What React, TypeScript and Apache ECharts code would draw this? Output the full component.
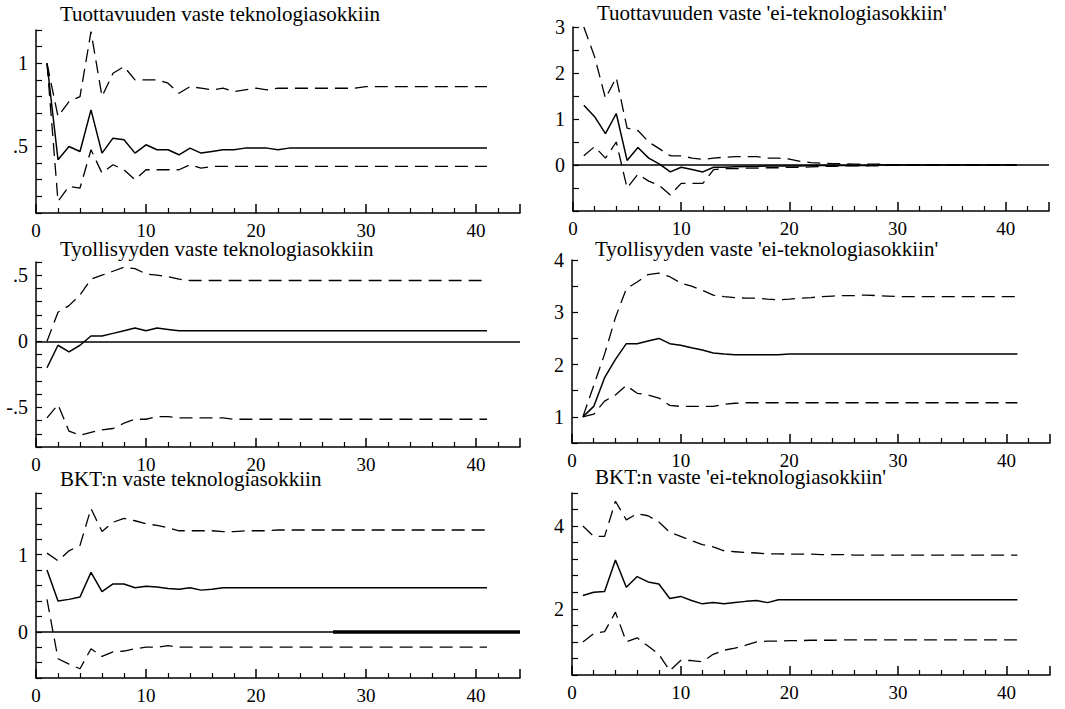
import React, { useEffect, useRef } from "react";
import * as echarts from "echarts";

// Horizon (quarters) 1..41
const horizon: number[] = Array.from({ length: 41 }, (_, i) => i + 1);

const titles: string[] = [
  "Tuottavuuden vaste teknologiasokkiin",
  "Tuottavuuden vaste 'ei-teknologiasokkiin'",
  "Tyollisyyden vaste teknologiasokkiin",
  "Tyollisyyden vaste 'ei-teknologiasokkiin'",
  "BKT:n vaste teknologiasokkiin",
  "BKT:n vaste 'ei-teknologiasokkiin'",
];

// Panel 1
const prodTechMid = [1.0, 0.42, 0.5, 0.47, 0.72, 0.46, 0.55, 0.54, 0.46, 0.51, 0.48, 0.48, 0.45, 0.49, 0.46, 0.47, 0.48, 0.48, 0.49, 0.49, 0.49, 0.48, 0.49, 0.49, 0.49, 0.49, 0.49, 0.49, 0.49, 0.49, 0.49, 0.49, 0.49, 0.49, 0.49, 0.49, 0.49, 0.49, 0.49, 0.49, 0.49];
const prodTechUp = [1.0, 0.68, 0.77, 0.8, 1.19, 0.8, 0.94, 0.98, 0.9, 0.9, 0.9, 0.88, 0.82, 0.86, 0.85, 0.84, 0.85, 0.83, 0.84, 0.85, 0.84, 0.85, 0.85, 0.85, 0.85, 0.85, 0.85, 0.85, 0.85, 0.86, 0.86, 0.86, 0.86, 0.86, 0.86, 0.86, 0.86, 0.86, 0.86, 0.86, 0.86];
const prodTechLo = [1.0, 0.17, 0.26, 0.25, 0.48, 0.34, 0.39, 0.36, 0.3, 0.36, 0.36, 0.36, 0.36, 0.39, 0.37, 0.38, 0.38, 0.38, 0.38, 0.38, 0.38, 0.38, 0.38, 0.38, 0.38, 0.38, 0.38, 0.38, 0.38, 0.38, 0.38, 0.38, 0.38, 0.38, 0.38, 0.38, 0.38, 0.38, 0.38, 0.38, 0.38];

// Panel 2
const prodNonMid = [1.3, 1.05, 0.68, 1.12, 0.1, 0.38, 0.15, 0.02, -0.15, -0.05, -0.1, -0.15, -0.05, -0.05, -0.04, -0.03, -0.03, -0.02, -0.02, -0.02, -0.02, -0.01, -0.01, -0.01, -0.01, -0.01, -0.01, 0, 0, 0, 0, 0, 0, 0, 0, 0, 0, 0, 0, 0, 0];
const prodNonUp = [3.0, 2.35, 1.45, 1.9, 0.8, 0.75, 0.5, 0.35, 0.2, 0.2, 0.15, 0.12, 0.15, 0.17, 0.18, 0.18, 0.18, 0.15, 0.15, 0.13, 0.08, 0.05, 0.04, 0.03, 0.03, 0.02, 0.02, 0.02, 0.01, 0.01, 0.01, 0.01, 0.01, 0, 0, 0, 0, 0, 0, 0, 0];
const prodNonLo = [0.2, 0.4, 0.15, 0.5, -0.5, -0.2, -0.35, -0.45, -0.65, -0.4, -0.4, -0.4, -0.1, -0.08, -0.08, -0.07, -0.07, -0.06, -0.06, -0.05, -0.05, -0.04, -0.03, -0.03, -0.02, -0.02, -0.02, -0.02, -0.01, -0.01, -0.01, -0.01, -0.01, 0, 0, 0, 0, 0, 0, 0, 0];

// Panel 3
const empTechMid = [-0.2, -0.03, -0.08, -0.03, 0.04, 0.04, 0.06, 0.08, 0.1, 0.08, 0.1, 0.09, 0.08, 0.08, 0.08, 0.08, 0.08, 0.08, 0.08, 0.08, 0.08, 0.08, 0.08, 0.08, 0.08, 0.08, 0.08, 0.08, 0.08, 0.08, 0.08, 0.08, 0.08, 0.08, 0.08, 0.08, 0.08, 0.08, 0.08, 0.08, 0.08];
const empTechUp = [0.0, 0.22, 0.27, 0.35, 0.47, 0.5, 0.53, 0.56, 0.55, 0.51, 0.5, 0.49, 0.47, 0.46, 0.46, 0.46, 0.46, 0.46, 0.46, 0.46, 0.46, 0.46, 0.46, 0.46, 0.46, 0.46, 0.46, 0.46, 0.46, 0.46, 0.46, 0.46, 0.46, 0.46, 0.46, 0.46, 0.46, 0.46, 0.46, 0.46, 0.46];
const empTechLo = [-0.58, -0.48, -0.68, -0.71, -0.69, -0.67, -0.66, -0.62, -0.59, -0.59, -0.57, -0.57, -0.58, -0.58, -0.58, -0.58, -0.58, -0.59, -0.59, -0.59, -0.59, -0.59, -0.59, -0.59, -0.59, -0.59, -0.59, -0.59, -0.59, -0.59, -0.59, -0.59, -0.59, -0.59, -0.59, -0.59, -0.59, -0.59, -0.59, -0.59, -0.59];

// Panel 4
const empNonMid = [1.0, 1.2, 1.75, 2.1, 2.4, 2.4, 2.45, 2.5, 2.4, 2.37, 2.32, 2.28, 2.22, 2.2, 2.19, 2.19, 2.19, 2.19, 2.19, 2.2, 2.2, 2.2, 2.2, 2.2, 2.2, 2.2, 2.2, 2.2, 2.2, 2.2, 2.2, 2.2, 2.2, 2.2, 2.2, 2.2, 2.2, 2.2, 2.2, 2.2, 2.2];
const empNonUp = [1.0, 1.6, 2.2, 2.9, 3.45, 3.58, 3.72, 3.75, 3.68, 3.56, 3.5, 3.42, 3.33, 3.3, 3.28, 3.27, 3.27, 3.25, 3.24, 3.25, 3.27, 3.28, 3.3, 3.31, 3.32, 3.32, 3.33, 3.32, 3.31, 3.3, 3.3, 3.3, 3.3, 3.3, 3.3, 3.3, 3.3, 3.3, 3.3, 3.3, 3.3];
const empNonLo = [1.0, 1.05, 1.3, 1.42, 1.6, 1.45, 1.42, 1.36, 1.22, 1.2, 1.2, 1.2, 1.2, 1.24, 1.26, 1.27, 1.27, 1.27, 1.27, 1.27, 1.27, 1.27, 1.27, 1.27, 1.27, 1.27, 1.27, 1.27, 1.27, 1.27, 1.27, 1.27, 1.27, 1.27, 1.27, 1.27, 1.27, 1.27, 1.27, 1.27, 1.27];

// Panel 5
const gdpTechMid = [0.8, 0.4, 0.42, 0.45, 0.77, 0.52, 0.62, 0.62, 0.57, 0.59, 0.58, 0.56, 0.55, 0.57, 0.54, 0.55, 0.57, 0.57, 0.57, 0.57, 0.57, 0.57, 0.57, 0.57, 0.57, 0.57, 0.57, 0.57, 0.57, 0.57, 0.57, 0.57, 0.57, 0.57, 0.57, 0.57, 0.57, 0.57, 0.57, 0.57, 0.57];
const gdpTechUp = [1.02, 0.92, 1.05, 1.12, 1.6, 1.3, 1.42, 1.47, 1.44, 1.4, 1.38, 1.35, 1.31, 1.31, 1.31, 1.31, 1.3, 1.3, 1.31, 1.31, 1.31, 1.32, 1.32, 1.32, 1.32, 1.32, 1.32, 1.32, 1.32, 1.32, 1.32, 1.32, 1.32, 1.32, 1.32, 1.32, 1.32, 1.32, 1.32, 1.32, 1.32];
const gdpTechLo = [0.42, -0.35, -0.42, -0.48, -0.22, -0.32, -0.26, -0.25, -0.22, -0.2, -0.2, -0.18, -0.2, -0.2, -0.2, -0.2, -0.2, -0.2, -0.2, -0.2, -0.2, -0.2, -0.2, -0.2, -0.2, -0.2, -0.2, -0.2, -0.2, -0.2, -0.2, -0.2, -0.2, -0.2, -0.2, -0.2, -0.2, -0.2, -0.2, -0.2, -0.2];

// Panel 6
const gdpNonMid = [2.32, 2.4, 2.42, 3.18, 2.52, 2.78, 2.65, 2.6, 2.25, 2.3, 2.2, 2.12, 2.15, 2.12, 2.15, 2.18, 2.2, 2.15, 2.22, 2.22, 2.22, 2.22, 2.22, 2.22, 2.22, 2.22, 2.22, 2.22, 2.22, 2.22, 2.22, 2.22, 2.22, 2.22, 2.22, 2.22, 2.22, 2.22, 2.22, 2.22, 2.22];
const gdpNonUp = [4.0, 3.75, 3.75, 4.6, 4.15, 4.3, 4.25, 4.1, 3.85, 3.75, 3.65, 3.55, 3.5, 3.4, 3.38, 3.36, 3.35, 3.33, 3.33, 3.32, 3.32, 3.32, 3.31, 3.31, 3.31, 3.3, 3.3, 3.3, 3.3, 3.3, 3.3, 3.3, 3.3, 3.3, 3.3, 3.3, 3.3, 3.3, 3.3, 3.3, 3.3];
const gdpNonLo = [1.2, 1.4, 1.45, 1.92, 1.2, 1.3, 1.1, 0.9, 0.5, 0.75, 0.75, 0.72, 0.9, 1.0, 1.05, 1.12, 1.2, 1.22, 1.22, 1.23, 1.23, 1.24, 1.24, 1.24, 1.25, 1.25, 1.25, 1.25, 1.25, 1.25, 1.25, 1.25, 1.25, 1.25, 1.25, 1.25, 1.25, 1.25, 1.25, 1.25, 1.25];

const panelMid = [prodTechMid, prodNonMid, empTechMid, empNonMid, gdpTechMid, gdpNonMid];
const panelUp = [prodTechUp, prodNonUp, empTechUp, empNonUp, gdpTechUp, gdpNonUp];
const panelLo = [prodTechLo, prodNonLo, empTechLo, empNonLo, gdpTechLo, gdpNonLo];

// Y axis scales
const yMin = [0.1, -1, -0.8, 0.5, -0.6, 0.4];
const yMax = [1.2, 3, 0.6, 4, 1.8, 4.8];
const yStep = [0.1, 0.5, 0.1, 0.5, 0.2, 0.4];
const yTickLabels: { v: number; t: string }[][] = [
  [{ v: 0.5, t: ".5" }, { v: 1, t: "1" }],
  [{ v: 0, t: "0" }, { v: 1, t: "1" }, { v: 2, t: "2" }, { v: 3, t: "3" }],
  [{ v: -0.5, t: "-.5" }, { v: 0, t: "0" }, { v: 0.5, t: ".5" }],
  [{ v: 1, t: "1" }, { v: 2, t: "2" }, { v: 3, t: "3" }, { v: 4, t: "4" }],
  [{ v: 0, t: "0" }, { v: 1, t: "1" }],
  [{ v: 2, t: "2" }, { v: 4, t: "4" }],
];
const zeroLine = [false, true, true, false, true, false];

// Layout
const grids = [
  { left: 36, top: 30, width: 484, height: 183 },
  { left: 573, top: 27, width: 476, height: 184 },
  { left: 36, top: 262, width: 484, height: 185 },
  { left: 572, top: 260, width: 478, height: 183 },
  { left: 36, top: 493, width: 484, height: 185 },
  { left: 572, top: 493, width: 478, height: 182 },
];
const titlePos = [
  { left: 60, top: 3 },
  { left: 597, top: 2 },
  { left: 60, top: 238 },
  { left: 595, top: 238 },
  { left: 60, top: 468 },
  { left: 595, top: 466 },
];

const FONT = "Liberation Serif";

export default function App() {
  const ref = useRef<HTMLDivElement>(null);
  useEffect(() => {
    if (!ref.current) return;
    const chart = echarts.init(ref.current, undefined, { renderer: "svg" });
    const series: any[] = [];
    const xAxis: any[] = [];
    const yAxis: any[] = [];
    for (let p = 0; p < 6; p++) {
      xAxis.push({
        gridIndex: p,
        type: "value",
        min: 0,
        max: 44,
        interval: 10,
        splitLine: { show: false },
        axisLine: { show: true, onZero: false, lineStyle: { color: "#000", width: 1.5 } },
        axisTick: { show: true, inside: true, length: 9, lineStyle: { color: "#000", width: 1.5 } },
        minorTick: { show: true, splitNumber: 5, length: 5, lineStyle: { color: "#000", width: 1.2 } },
        axisLabel: {
          color: "#000",
          fontFamily: FONT,
          fontSize: 19,
          margin: 8,
          formatter: (v: number) => (v <= 40 ? String(v) : ""),
        },
      });
      const labels = yTickLabels[p];
      yAxis.push({
        gridIndex: p,
        type: "value",
        min: yMin[p],
        max: yMax[p],
        interval: yStep[p],
        splitLine: { show: false },
        axisLine: { show: true, onZero: false, lineStyle: { color: "#000", width: 1.5 } },
        axisTick: { show: true, inside: true, length: 6, lineStyle: { color: "#000", width: 1.2 } },
        axisLabel: {
          color: "#000",
          fontFamily: FONT,
          fontSize: 20,
          margin: 8,
          showMinLabel: true,
          showMaxLabel: true,
          formatter: (v: number) => {
            const m = labels.find((l) => Math.abs(l.v - v) < 1e-6);
            return m ? m.t : "";
          },
        },
      });
      const mk = (arr: number[]) => horizon.map((h, i) => [h, arr[i]]);
      const solid: any = {
        type: "line",
        xAxisIndex: p,
        yAxisIndex: p,
        data: mk(panelMid[p]),
        symbol: "none",
        lineStyle: { color: "#000", width: 1.5, type: "solid" },
      };
      if (zeroLine[p]) {
        const mlData: any[] = [{ yAxis: 0 }];
        if (p === 4) {
          mlData.push([
            { coord: [27, 0], lineStyle: { width: 3.5 } },
            { coord: [44, 0] },
          ]);
        }
        solid.markLine = {
          silent: true,
          symbol: ["none", "none"],
          label: { show: false },
          lineStyle: { color: "#000", type: "solid", width: 1.5 },
          data: mlData,
        };
      }
      series.push(solid);
      [panelUp[p], panelLo[p]].forEach((arr) => {
        series.push({
          type: "line",
          xAxisIndex: p,
          yAxisIndex: p,
          data: mk(arr),
          symbol: "none",
          lineStyle: { color: "#000", width: 1.3, type: [13, 7] },
        });
      });
    }
    chart.setOption({
      animation: false,
      backgroundColor: "#fff",
      title: titles.map((t, i) => ({
        text: t,
        left: titlePos[i].left,
        top: titlePos[i].top,
        padding: 0,
        textStyle: { color: "#000", fontFamily: FONT, fontSize: 21, fontWeight: "normal" },
      })),
      grid: grids,
      xAxis,
      yAxis,
      series,
    });
    return () => chart.dispose();
  }, []);
  return <div ref={ref} style={{ width: 1065, height: 709, position: "absolute", left: 0, top: 0 }} />;
}
